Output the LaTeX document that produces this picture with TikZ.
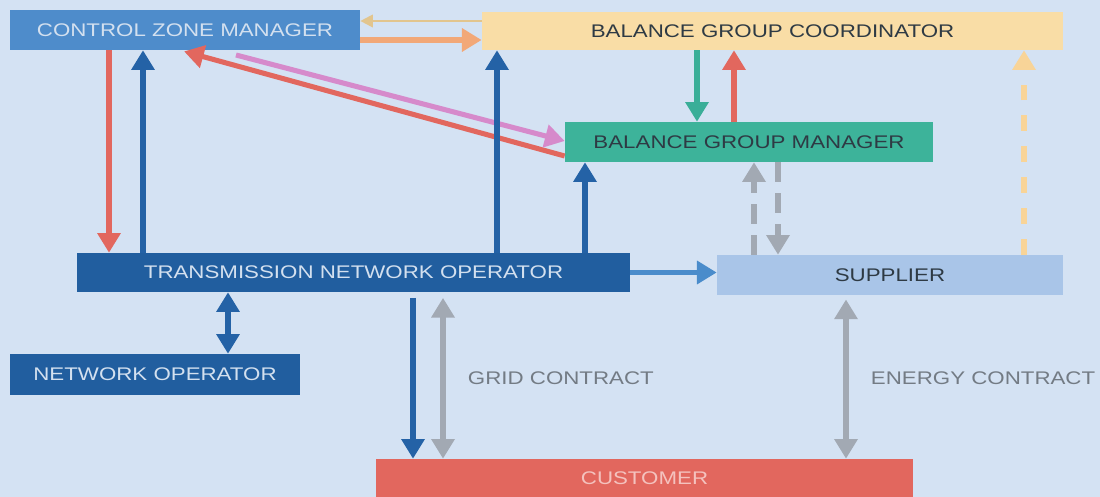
\documentclass[tikz,border=0pt]{standalone}
\usepackage{fontspec}
\newfontfamily\boxfont[FakeStretch=1.22]{Liberation Sans}
\usetikzlibrary{arrows.meta}

\definecolor{bgblue}{HTML}{D4E2F3}
\definecolor{czmblue}{HTML}{4E8CCB}
\definecolor{tnoblue}{HTML}{215E9F}
\definecolor{supblue}{HTML}{A9C5E8}
\definecolor{bgcorange}{HTML}{F9DDA6}
\definecolor{bgmteal}{HTML}{3DB39A}
\definecolor{cusred}{HTML}{E2675E}
\definecolor{arrred}{HTML}{E2675E}
\definecolor{arrblue}{HTML}{2462A6}
\definecolor{arrmid}{HTML}{4A8CCB}
\definecolor{arrteal}{HTML}{3AAE98}
\definecolor{arrpink}{HTML}{D68ACB}
\definecolor{arrsalmon}{HTML}{F2A878}
\definecolor{arrtan}{HTML}{E2C58E}
\definecolor{arrgray}{HTML}{A2A9B3}
\definecolor{arrpale}{HTML}{F8D498}
\definecolor{lightfont}{HTML}{D3E0EF}
\definecolor{darkfont}{HTML}{2E3A44}
\definecolor{labelgray}{HTML}{737B84}

\begin{document}
\begin{tikzpicture}[x=0.025cm,y=-0.025cm,
    box/.style={rectangle,inner sep=0pt,font=\boxfont\fontsize{13}{15}\selectfont},
    flow/.style={line width=3.6pt,-{Triangle[width=16pt,length=14pt]}},
    bothflow/.style={line width=3.6pt,{Triangle[width=16pt,length=14pt]}-{Triangle[width=16pt,length=14pt]}},
    dashflow/.style={flow,dash pattern=on 14pt off 8pt},
    contract/.style={font=\boxfont\fontsize{13}{15}\selectfont,text=labelgray,anchor=west}]

\useasboundingbox (0,0) rectangle (1100,497);
\fill[bgblue] (0,0) rectangle (1100,497);

\node[box,fill=czmblue,text=lightfont,minimum width=8.75cm,minimum height=1cm] (czm) at (185,30) {CONTROL ZONE MANAGER};
\node[box,fill=bgcorange,text=darkfont,minimum width=14.525cm,minimum height=0.95cm] (bgc) at (772.5,31) {BALANCE GROUP COORDINATOR};
\node[box,fill=bgmteal,text=darkfont,minimum width=9.2cm,minimum height=1cm] (bgm) at (749,142) {BALANCE GROUP MANAGER};
\node[box,fill=tnoblue,text=lightfont,minimum width=13.825cm,minimum height=0.975cm] (tno) at (353.5,272.5) {TRANSMISSION NETWORK OPERATOR};
\node[box,fill=supblue,text=darkfont,minimum width=8.65cm,minimum height=1cm] (sup) at (890,275) {SUPPLIER};
\node[box,fill=tnoblue,text=lightfont,minimum width=7.25cm,minimum height=1.025cm] (no) at (155,374.5) {NETWORK OPERATOR};
\node[box,fill=cusred,text=cusred!40!white,minimum width=13.425cm,minimum height=0.95cm] (cus) at (644.5,478) {CUSTOMER};

\node[contract] (grid) at (463,378) {GRID CONTRACT};
\node[contract] (energy) at (866,378) {ENERGY CONTRACT};

\draw[arrtan,line width=1.4pt,-{Triangle[width=9pt,length=9pt]}] (bgc.west |- 0,21) -- (czm.east |- 0,21);
\draw[flow,arrsalmon] (czm.east |- 0,40) -- (bgc.west |- 0,40);

\draw[flow,arrred] (czm.south -| 109,0) -- (tno.north -| 109,0);
\draw[flow,arrblue] (tno.north -| 143,0) -- (czm.south -| 143,0);
\draw[flow,arrred,shorten >=3pt] (bgm.west |- 0,156) -- (czm.south -| 180,0);
\draw[flow,arrpink] (236,55) -- (bgm.west |- 0,141);
\draw[flow,arrblue] (tno.north -| 497,0) -- (bgc.south -| 497,0);
\draw[flow,arrblue] (tno.north -| 585,0) -- (bgm.south -| 585,0);
\draw[flow,arrteal] (bgc.south -| 697,0) -- (bgm.north -| 697,0);
\draw[flow,arrred] (bgm.north -| 734,0) -- (bgc.south -| 734,0);

\draw[dashflow,arrgray] (sup.north -| 754,0) -- (bgm.south -| 754,0);
\draw[dashflow,arrgray] (bgm.south -| 778,0) -- (sup.north -| 778,0);
\draw[dashflow,arrpale,dash pattern=on 11pt off 11pt] (sup.north -| 1024,0) -- (bgc.south -| 1024,0);

\draw[flow,arrmid] (tno.east) -- (sup.west |- tno.east);
\draw[bothflow,arrblue] (tno.south -| 228,0) -- (no.north -| 228,0);
\draw[flow,arrblue,shorten <=4pt] (tno.south -| 413,0) -- (cus.north -| 413,0);
\draw[bothflow,arrgray,shorten <=4pt] (tno.south -| 443,0) -- (cus.north -| 443,0);
\draw[bothflow,arrgray,shorten <=3pt] (sup.south -| 846,0) -- (cus.north -| 846,0);
\end{tikzpicture}
\end{document}
